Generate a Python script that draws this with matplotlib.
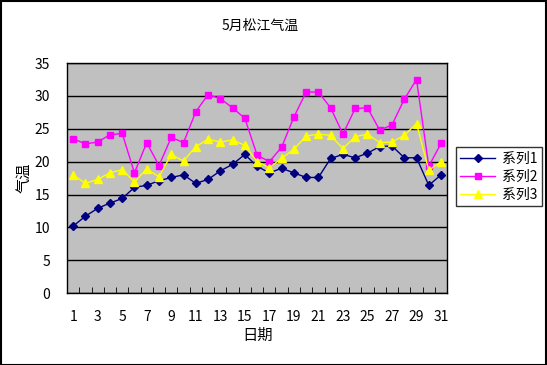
import matplotlib
matplotlib.use("Agg")
import matplotlib.pyplot as plt
from matplotlib.patches import Rectangle
import numpy as np

plt.rcParams['font.family'] = ['Noto Sans CJK SC', 'DejaVu Sans']

days = list(range(1, 32))
series1 = [10.2, 11.7, 12.9, 13.7, 14.4, 16.1, 16.4, 17.1, 17.6, 18.0,
           16.7, 17.3, 18.6, 19.6, 21.1, 19.3, 18.3, 19.0, 18.3, 17.6,
           17.6, 20.5, 21.1, 20.6, 21.3, 22.3, 22.4, 20.6, 20.6, 16.4, 18.0]
series2 = [23.5, 22.7, 23.0, 24.1, 24.3, 18.3, 22.9, 19.4, 23.7, 22.9,
           27.6, 30.2, 29.6, 28.2, 26.6, 21.0, 20.0, 22.2, 26.8, 30.6,
           30.6, 28.2, 24.2, 28.1, 28.2, 24.8, 25.6, 29.5, 32.5, 19.3, 22.8]
series3 = [18.0, 16.7, 17.3, 18.3, 18.8, 16.9, 18.9, 17.7, 21.1, 20.1,
           22.3, 23.4, 23.0, 23.3, 22.5, 20.0, 19.1, 20.5, 21.9, 23.9,
           24.2, 24.0, 22.0, 23.8, 24.2, 22.9, 23.0, 24.0, 25.8, 18.7, 20.0]
names = ['系列1', '系列2', '系列3']
title = '5月松江气温'
xlabel = '日期'
ylabel = '气温'

fig = plt.figure(figsize=(5.47, 3.65), dpi=100)
fig.patch.set_facecolor('white')
fig.patches.append(Rectangle((0.001, 0.001), 0.997, 0.996, transform=fig.transFigure,
                             fill=False, edgecolor='black', linewidth=1.5))

ax = fig.add_axes([0.1225, 0.197, 0.695, 0.63])
ax.set_facecolor('#C0C0C0')

ax.plot(days, series1, color='#000080', marker='D', markersize=4, linewidth=1, label=names[0])
ax.plot(days, series2, color='#FF00FF', marker='s', markersize=5, linewidth=1, label=names[1])
ax.plot(days, series3, color='#FFFF00', marker='^', markersize=6, linewidth=1, label=names[2])

ax.set_xlim(0.5, 31.5)
ax.set_ylim(0, 35)
ax.set_yticks(range(0, 36, 5))
ax.yaxis.grid(True, color='black', linewidth=1)
ax.set_axisbelow(True)

ax.set_xticks(days[::2])
ax.set_xticklabels([str(d) for d in days[::2]], fontsize=10)
ax.set_xticks(np.arange(0.5, 32, 1), minor=True)
ax.tick_params(axis='x', which='major', length=0, pad=12)
ax.tick_params(axis='x', which='minor', length=4, direction='in', color='black')
ax.tick_params(axis='y', length=0, labelsize=10, pad=12)

for s in ax.spines.values():
    s.set_color('black')
    s.set_linewidth(1)

ax.set_xlabel(xlabel, fontsize=11, labelpad=2)
ax.set_ylabel(ylabel, fontsize=11)
ax.yaxis.set_label_coords(-0.092, 0.5)
fig.text(0.475, 0.93, title, ha='center', va='center', fontsize=10)

leg = ax.legend(loc='center left', bbox_to_anchor=(0.834, 0.516),
                bbox_transform=fig.transFigure, fontsize=10, frameon=True,
                fancybox=False, borderaxespad=0, handlelength=2.5,
                borderpad=0.3, labelspacing=0.3, handletextpad=0.5)
leg.get_frame().set_edgecolor('black')
leg.get_frame().set_linewidth(1)

fig.savefig('out.png', dpi=100)
